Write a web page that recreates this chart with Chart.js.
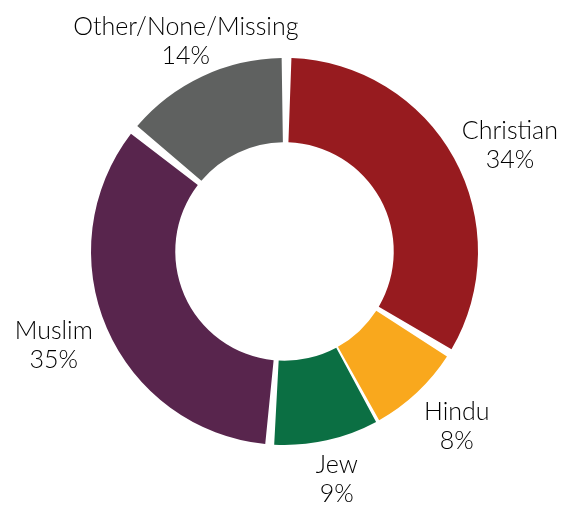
<!DOCTYPE html>
<html>
<head>
<meta charset="utf-8">
<script src="https://cdn.jsdelivr.net/npm/chart.js@4/dist/chart.umd.min.js"></script>
<style>
    html, body { margin: 0; padding: 0; background: #fff; }
    #wrap { width: 561px; height: 508px; position: relative; }
</style>
</head>
<body>
<div id="wrap"><canvas id="religionChart"></canvas></div>
<script>
// religious affiliation shares, clockwise from 12 o'clock
const groups = ['Christian', 'Hindu', 'Jew', 'Muslim', 'Other/None/Missing'];
const shares = [34, 8, 9, 35, 14];
const groupColors = ['#971b1f', '#f9a81d', '#0b6f43', '#58254d', '#5f6160'];

// outside labels: extra distance beyond the ring, and a small angular nudge (degrees)
const labelGap = [61, 56, 44, 60, 45];
const labelTurn = [3.4, -1.6, -0.4, 1.6, 0.2];

const outsideLabels = {
    id: 'outsideLabels',
    afterDatasetsDraw(chart) {
        const ctx = chart.ctx;
        const meta = chart.getDatasetMeta(0);
        ctx.save();
        ctx.fillStyle = '#000';
        ctx.font = '300 25px Lato, "Open Sans", sans-serif';
        ctx.textAlign = 'center';
        ctx.textBaseline = 'alphabetic';
        meta.data.forEach((arc, i) => {
            const mid = (arc.startAngle + arc.endAngle) / 2 + labelTurn[i] * Math.PI / 180;
            const r = arc.outerRadius + labelGap[i];
            const x = arc.x + Math.cos(mid) * r;
            const y = arc.y + Math.sin(mid) * r;
            ctx.fillText(groups[i], x, y - 5);
            ctx.fillText(shares[i] + '%', x, y + 24);
        });
        ctx.restore();
    }
};

new Chart(document.getElementById('religionChart'), {
    type: 'doughnut',
    data: {
        labels: groups,
        datasets: [{
            data: shares,
            backgroundColor: groupColors,
            borderWidth: 0,
            spacing: 10
        }]
    },
    options: {
        responsive: true,
        maintainAspectRatio: false,
        animation: false,
        cutout: '55.3%',
        layout: { padding: { left: 91, right: 83, top: 58, bottom: 63 } },
        plugins: {
            legend: { display: false },
            tooltip: { enabled: false }
        }
    },
    plugins: [outsideLabels]
});
</script>
</body>
</html>
